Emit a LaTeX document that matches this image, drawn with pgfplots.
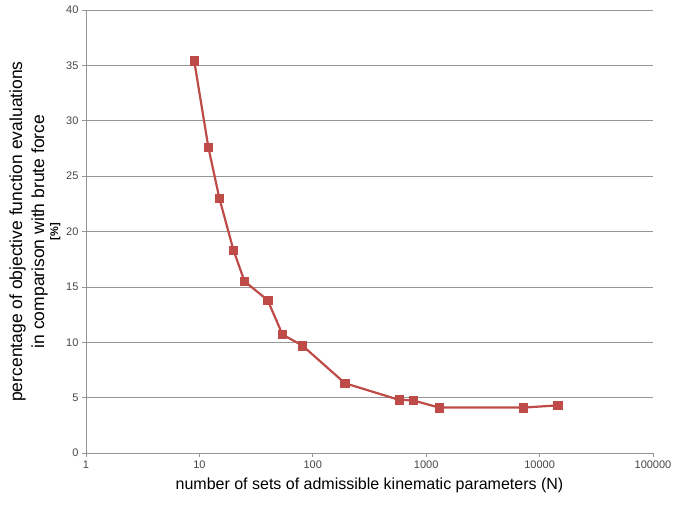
\documentclass[border=0pt]{standalone}
\usepackage{pgfplots}
\pgfplotsset{compat=1.18}
\usepackage{fontspec}
\setmainfont{Liberation Sans}
\definecolor{exred}{RGB}{190,75,72}
\definecolor{gridc}{RGB}{150,150,150}
\definecolor{tickc}{RGB}{70,70,70}
\begin{document}
\begin{tikzpicture}[x=1pt,y=1pt]
\useasboundingbox (-86,-53) rectangle (587,453);
\begin{axis}[
  at={(0,0)}, anchor=south west,
  scale only axis, width=567pt, height=443pt,
  xmode=log, log basis x=10,
  xmin=1, xmax=100000, ymin=0, ymax=40,
  ytick={0,5,...,40},
  xtick={1,10,100,1000,10000,100000},
  xticklabels={1,10,100,1000,10000,100000},
  /pgf/number format/assume math mode=true,
  tick label style={font=\fontsize{11}{12}\selectfont, text=tickc},
  ymajorgrids, grid style={gridc, line width=0.6pt},
  axis line style={gridc, line width=0.6pt},
  axis x line*=bottom, axis y line*=left,
  tick style={gridc, line width=0.6pt},
  tick align=outside, major tick length=4pt,
  minor tick num=0, xminorticks=false,
  xlabel={number of sets of admissible kinematic parameters (N)},
  xlabel style={font=\fontsize{16}{18}\selectfont, yshift=-3pt},
  ylabel={percentage of objective function evaluations\\in comparison with brute force\\[-8pt]{\fontsize{11}{12}\selectfont\bfseries [\%]}},
  ylabel style={font=\fontsize{17.5}{22}\selectfont, align=center, yshift=-1pt},
]
\addplot[exred, line width=2.2pt, mark=square*, mark size=4.2pt, mark options={fill=exred, draw=exred, line width=0.5pt}] coordinates {
(9,35.4) (12,27.6) (15,23.0) (20,18.3) (25,15.5) (40,13.8) (54,10.7) (81,9.7) (192,6.3) (576,4.8) (768,4.75) (1300,4.1) (7200,4.1) (14400,4.3)
};
\end{axis}
\end{tikzpicture}
\end{document}
